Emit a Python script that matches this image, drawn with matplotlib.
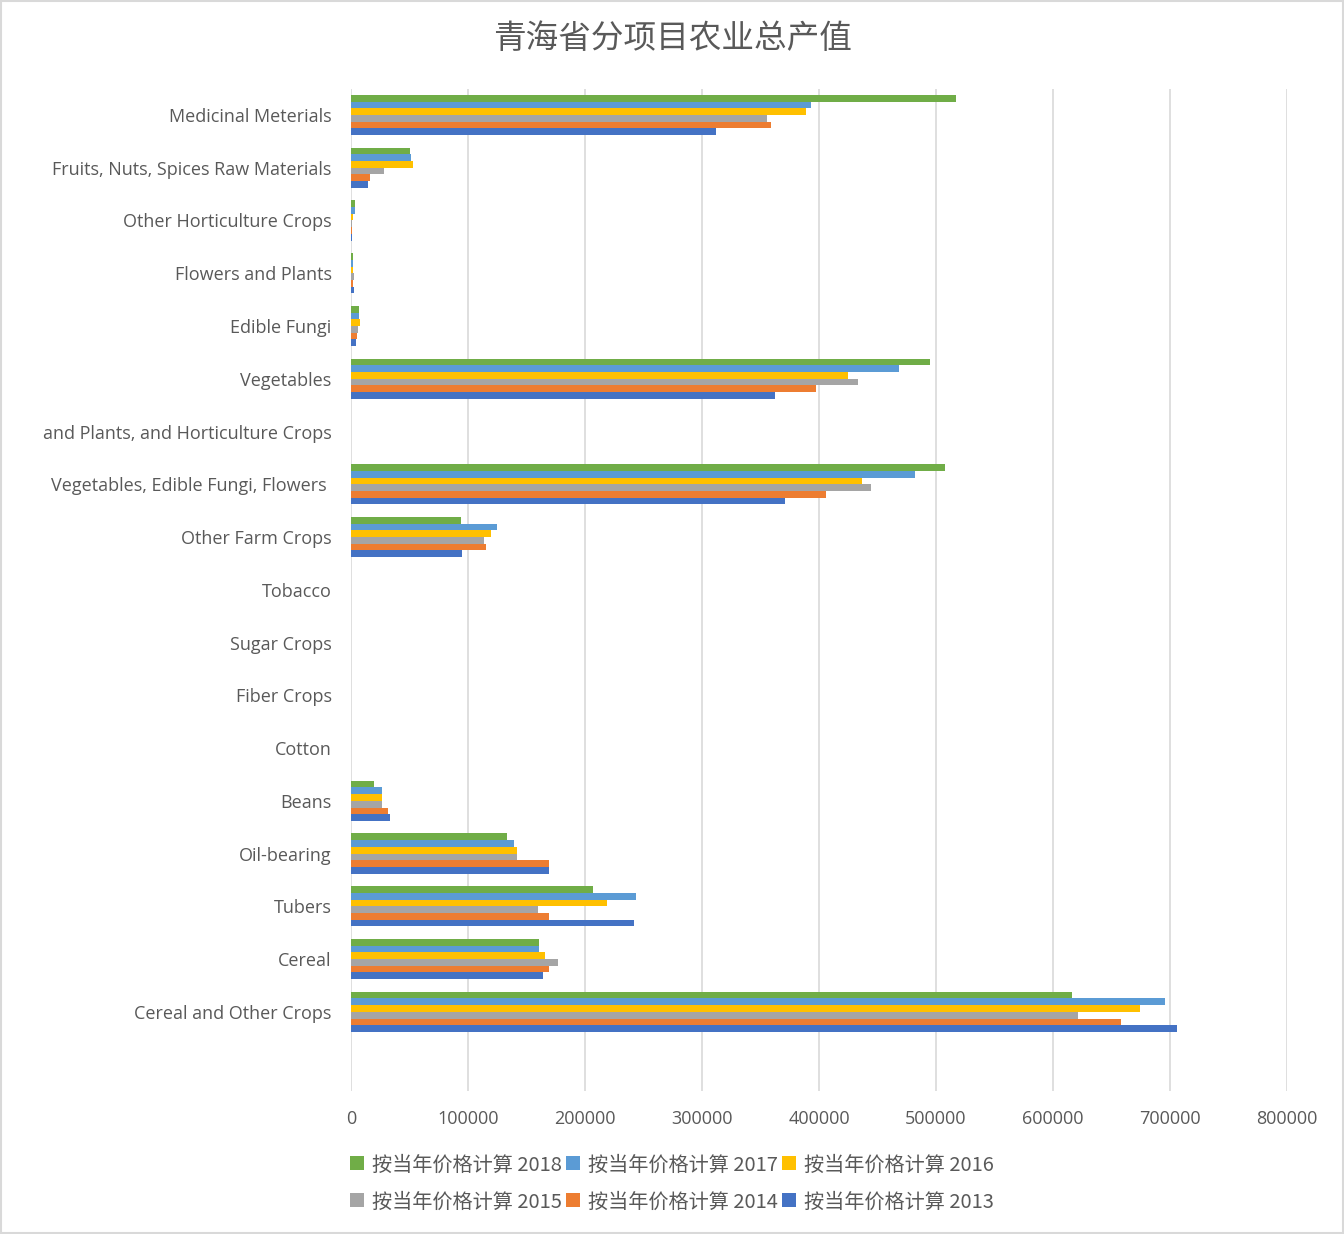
"""
Qinghai agricultural output by item, horizontal grouped bars.
"""
import matplotlib
matplotlib.use("Agg")
import matplotlib.pyplot as plt
import numpy as np

plt.rcParams['font.family'] = ['Open Sans', 'Noto Sans CJK SC', 'DejaVu Sans']

# bottom to top, last entry is the blank row Excel left under the chart
categories = [
    "Cereal and Other Crops", "Cereal", "Tubers", "Oil-bearing", "Beans",
    "Cotton", "Fiber Crops", "Sugar Crops", "Tobacco", "Other Farm Crops",
    "Vegetables, Edible Fungi, Flowers ", "and Plants, and Horticulture Crops",
    "Vegetables", "Edible Fungi", "Flowers and Plants",
    "Other Horticulture Crops", "Fruits, Nuts, Spices Raw Materials",
    "Medicinal Meterials",
]

years = [2013, 2014, 2015, 2016, 2017, 2018]
v2013 = [706000, 164000, 242000, 169000, 33600, 0, 0, 0, 0, 95000,
         371000, 0, 362000, 4000, 2600, 800, 14800, 312000]
v2014 = [658000, 169000, 169000, 169000, 31300, 0, 0, 0, 0, 115000,
         406000, 0, 397000, 4800, 2000, 1000, 16500, 359000]
v2015 = [621000, 177000, 160000, 142000, 26200, 0, 0, 0, 0, 114000,
         444000, 0, 433000, 5700, 2300, 800, 28200, 355500]
v2016 = [674000, 166000, 219000, 142000, 26200, 0, 0, 0, 0, 120000,
         437000, 0, 425000, 7700, 1700, 2000, 52700, 389000]
v2017 = [696000, 160700, 243500, 139000, 26200, 0, 0, 0, 0, 125000,
         482000, 0, 468000, 6800, 1400, 3700, 51000, 393000]
v2018 = [616000, 160700, 207000, 133000, 19400, 0, 0, 0, 0, 94000,
         508000, 0, 495000, 6800, 1700, 3700, 50400, 517000]
series = [v2013, v2014, v2015, v2016, v2017, v2018]
colors = ["#4472C4", "#ED7D31", "#A5A5A5", "#FFC000", "#5B9BD5", "#70AD47"]

fig = plt.figure(figsize=(13.44, 12.34), dpi=100)
ax = fig.add_axes([0.2612, 0.1159, 0.6964, 0.8123])

y = np.arange(len(categories))
h = 0.127
handles = []
for i, (vals, c) in enumerate(zip(series, colors)):
    b = ax.barh(y + (i - 2.5) * h, vals, height=h, color=c,
                label=f"按当年价格计算 {years[i]}", zorder=3)
    handles.append(b)

ax.set_xlim(0, 800000)
ax.set_ylim(-1.5, len(categories) - 0.5)
ax.set_xticks(np.arange(0, 800001, 100000))
ax.set_yticks(y)
ax.set_yticklabels(categories)
ax.grid(axis='x', color='#D9D9D9', linewidth=1.2, zorder=0)
for s in ax.spines.values():
    s.set_visible(False)
ax.tick_params(axis='both', length=0, labelsize=13, colors='#595959')
ax.tick_params(axis='x', pad=14)
ax.tick_params(axis='y', pad=14)

fig.text(0.5, 0.968, "青海省分项目农业总产值", ha='center', va='center',
         fontsize=23.5, color='#595959', family=['Noto Sans CJK SC', 'DejaVu Sans'])

# legend is filled column by column, so this gives rows 2018-2016 / 2015-2013
order = [5, 2, 4, 1, 3, 0]
leg = fig.legend([handles[k] for k in order],
                 [f"按当年价格计算 {years[k]}" for k in order],
                 loc='center', bbox_to_anchor=(0.5, 0.041), ncol=3, frameon=False,
                 handlelength=0.7, handleheight=0.7, handletextpad=0.4,
                 columnspacing=0.2, labelspacing=0.8,
                 prop={'family': ['Noto Sans CJK SC', 'DejaVu Sans'], 'size': 14.5})
for t in leg.get_texts():
    t.set_color('#595959')

# thin grey frame around the whole chart
fig.patches.append(plt.Rectangle((0.001, 0.001), 0.998, 0.998, transform=fig.transFigure,
                                 fill=False, edgecolor='#D9D9D9', linewidth=1.5))

fig.savefig("out.png", dpi=100)
